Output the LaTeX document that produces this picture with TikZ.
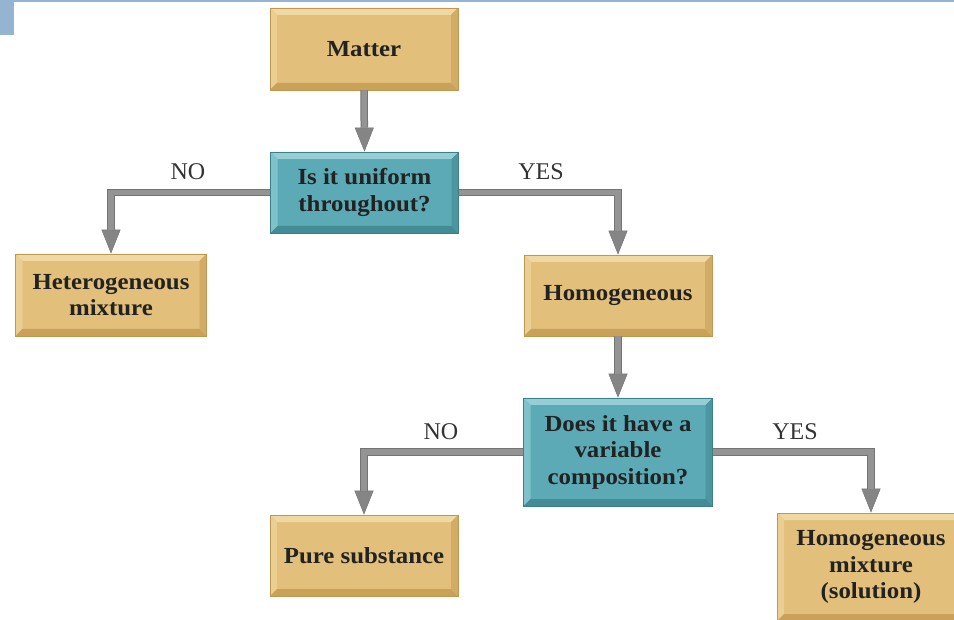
\documentclass[tikz,border=0pt]{standalone}
\usepackage{fontspec}
\setmainfont{Liberation Serif}
\newfontfamily\boxfont{Liberation Serif}[FakeStretch=1.08]
\usetikzlibrary{arrows.meta}

\definecolor{goldbase}{HTML}{E2BF7A}
\definecolor{goldlight}{HTML}{F0D8A2}
\definecolor{goldside}{HTML}{EACE92}
\definecolor{golddark}{HTML}{C9A158}
\definecolor{goldright}{HTML}{D2AB66}
\definecolor{goldedge}{HTML}{C09650}
\definecolor{tealbase}{HTML}{5BAAB5}
\definecolor{teallight}{HTML}{97CED6}
\definecolor{tealside}{HTML}{80C2CB}
\definecolor{tealdark}{HTML}{438C96}
\definecolor{tealright}{HTML}{4C96A0}
\definecolor{tealedge}{HTML}{3A7F89}
\definecolor{connector}{HTML}{949494}
\definecolor{connectoredge}{HTML}{747474}
\definecolor{tipgray}{HTML}{858585}
\definecolor{inkdark}{HTML}{222222}
\definecolor{labelink}{HTML}{333333}
\definecolor{framebar}{HTML}{94B4D2}

% bevelled rim: #1 top, #2 left, #3 bottom, #4 right
\newcommand\bevelrim[4]{%
  \fill[#1] (path picture bounding box.north west) -- (path picture bounding box.north east)
    -- ([shift={(-7pt,-7pt)}]path picture bounding box.north east)
    -- ([shift={(7pt,-7pt)}]path picture bounding box.north west) -- cycle;
  \fill[#2] (path picture bounding box.north west) -- (path picture bounding box.south west)
    -- ([shift={(7pt,7pt)}]path picture bounding box.south west)
    -- ([shift={(7pt,-7pt)}]path picture bounding box.north west) -- cycle;
  \fill[#3] (path picture bounding box.south west) -- (path picture bounding box.south east)
    -- ([shift={(-7pt,7pt)}]path picture bounding box.south east)
    -- ([shift={(7pt,7pt)}]path picture bounding box.south west) -- cycle;
  \fill[#4] (path picture bounding box.north east) -- (path picture bounding box.south east)
    -- ([shift={(-7pt,7pt)}]path picture bounding box.south east)
    -- ([shift={(-7pt,-7pt)}]path picture bounding box.north east) -- cycle;
}

\tikzset{
  panel/.style={rectangle, inner sep=0pt, minimum width=188pt, minimum height=82pt,
    align=center, text=inkdark, line width=0.8pt,
    font=\boxfont\bfseries\fontsize{23}{26.5}\selectfont},
  goldbox/.style={panel, fill=goldbase, draw=goldedge,
    path picture={\bevelrim{goldlight}{goldside}{golddark}{goldright}}},
  tealbox/.style={panel, fill=tealbase, draw=tealedge,
    path picture={\bevelrim{teallight}{tealside}{tealdark}{tealright}}},
  connbase/.style={line width=7.5pt, draw=connectoredge, line join=miter,
    -{Triangle[length=24pt,width=19pt,color=connectoredge,fill=tipgray,line width=0.5pt]}},
  conncore/.style={line width=5.5pt, draw=connector, line join=miter, shorten >=24pt},
  answer/.style={text=labelink, font=\fontsize{24}{28}\selectfont, inner sep=0pt}
}

\begin{document}
\begin{tikzpicture}[x=1pt,y=-1pt]
\useasboundingbox (0,0) rectangle (954,620);
\clip (0,0) rectangle (954,620);
\fill[white] (0,0) rectangle (954,620);

% frame decoration
\fill[framebar] (0,0) rectangle (954,2.5);
\fill[framebar] (0,0) rectangle (14,35);

% boxes
\node[goldbox] (matter) at (364,49) {Matter};
\node[tealbox, minimum height=81pt] (q1) at (364.5,192.5) {Is it uniform\\throughout?};
\node[goldbox, minimum width=191pt] (het) at (111,295) {Heterogeneous\\mixture};
\node[goldbox, minimum height=81pt] (homog) at (618,295.5) {Homogeneous};
\node[tealbox, minimum width=189pt, minimum height=108pt] (q2) at (618,452) {Does it have a\\variable\\composition?};
\node[goldbox, minimum height=81pt] (pure) at (364,555.5) {Pure substance};
\node[goldbox, minimum height=108pt] (sol) at (871,567) {Homogeneous\\mixture\\(solution)};

% connectors: darker rim with a lighter core
\foreach \a/\b in {matter/q1, homog/q2}{
  \draw[connbase] (\a.south) -- (\b.north);
  \draw[conncore] (\a.south) -- (\b.north);
}
\foreach \a/\s/\b in {q1/west/het, q1/east/homog, q2/west/pure, q2/east/sol}{
  \draw[connbase] (\a.\s) -| (\b.north);
  \draw[conncore] (\a.\s) -| (\b.north);
}

% branch labels
\node[answer] (no1) at (188,172) {NO};
\node[answer] (yes1) at (541,172) {YES};
\node[answer] (no2) at (441,432) {NO};
\node[answer] (yes2) at (795,432) {YES};
\end{tikzpicture}
\end{document}
